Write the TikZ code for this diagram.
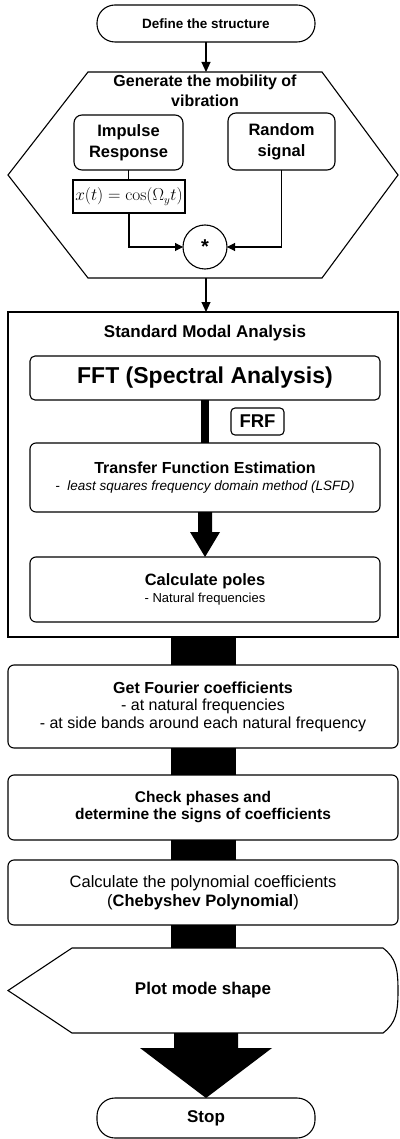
\documentclass[tikz,border=0pt]{standalone}
\usepackage[no-math]{fontspec}
\setmainfont{Liberation Sans}
\usetikzlibrary{arrows.meta,calc}
\newcommand\fsz[2]{\fontsize{#1}{#2}\selectfont}

\begin{document}
\begin{tikzpicture}[x=1pt,y=-1pt,
  every node/.style={inner sep=0pt, outer sep=0pt},
  frame/.style={draw, line width=1.1pt},
  rbox/.style={frame, rounded corners=6pt, align=center},
  term/.style={frame, rounded corners=18pt, minimum width=218pt, align=center},
  wide/.style={rbox, minimum width=390pt, minimum height=65pt},
  inner/.style={rbox, minimum width=350pt},
  thin arrow/.style={line width=1.1pt, -{Triangle[length=10pt,width=9pt]}},
  in arrow/.style={line width=1.1pt, -{Triangle[length=8pt,width=8pt]}},
  bar/.style={fill=black},
]
\useasboundingbox (0,0) rectangle (399,1139);

% start terminal
\node[term, minimum height=37pt, font=\bfseries\fsz{13.5}{16}] (start) at (206,23.5) {Define the structure};

% hexagon: generation of the vibration mobility
\node[minimum width=390pt, minimum height=206pt] (hex) at (203,175) {};
\draw[line width=1.1pt] ([xshift=80pt]hex.north west) -- ([xshift=-76pt]hex.north east)
  -- (hex.east) -- ([xshift=-76pt]hex.south east) -- ([xshift=80pt]hex.south west)
  -- (hex.west) -- cycle;
\node[align=center, font=\bfseries\fsz{16}{20}] (gentitle) at (205,91) {Generate the mobility of\\vibration};

\node[rbox, rounded corners=8pt, minimum width=109pt, minimum height=55pt, font=\bfseries\fsz{16.5}{21}] (imp) at (128.5,142.5) {Impulse\\Response};
\node[rbox, rounded corners=8pt, minimum width=107pt, minimum height=57pt, font=\bfseries\fsz{16.5}{21}] (rnd) at (281.5,141.5) {Random\\signal};
\node[frame, minimum width=112pt, minimum height=33pt, font=\fsz{16}{19}] (xt) at (129,196.5) {$x(t)=\cos(\Omega_y t)$};
\node[frame, circle, minimum size=44pt, font=\bfseries\fsz{20}{20}] (conv) at (205,247) {\raisebox{-6pt}{*}};

\draw[line width=1.1pt] (imp.south) -- (imp.south |- xt.north);
\draw[in arrow] (xt.south) |- (conv.west);
\draw[in arrow] (rnd.south) |- (conv.east);
\draw[thin arrow] (start.south) -- (start.south |- hex.north);

% standard modal analysis block
\node[frame, minimum width=390pt, minimum height=325pt] (sma) at (203,474.5) {};
\node[font=\bfseries\fsz{17}{20}] (smatitle) at (205,333) {Standard Modal Analysis};
\draw[thin arrow] (start.south |- hex.south) -- (start.south |- sma.north);

\node[inner, rounded corners=5pt, minimum height=44pt, font=\bfseries\fsz{23}{26}] (fft) at (205,378) {FFT (Spectral Analysis)};
\node[rbox, rounded corners=4pt, minimum width=53pt, minimum height=27pt, font=\bfseries\fsz{18.5}{20}] (frf) at (257.5,421.5) {FRF};
\node[inner, minimum height=69pt, font=\fsz{16}{16.5}] (tfe) at (205,477.5)
  {\textbf{Transfer Function Estimation}\\{\itshape\fsz{13.5}{16}-\ \ least squares frequency domain method (LSFD)}};
\node[inner, minimum height=65pt, font=\fsz{16.4}{17}] (poles) at (205,589.5)
  {\textbf{Calculate poles}\\{\fsz{13}{16}- Natural frequencies}};

\fill[bar] let \p1=(tfe.north), \p2=(fft.south) in (\x1-4pt,\y2) rectangle (\x1+4pt,\y1);
\fill[bar] let \p1=(poles.north), \p2=(tfe.south) in
  (\x1-7pt,\y2) -- (\x1+7pt,\y2) -- (\x1+7pt,\y1+25pt) -- (\x1+15pt,\y1+25pt)
  -- (\x1,\y1) -- (\x1-15pt,\y1+25pt) -- (\x1-7pt,\y1+25pt) -- cycle;

% post-processing steps
\node[wide, minimum height=83pt, font=\fsz{16}{17.5}] (gfc) at (203,706.5)
  {\textbf{Get Fourier coefficients}\\- at natural frequencies\\- at side bands around each natural frequency};
\node[wide, font=\bfseries\fsz{15.5}{17}] (chk) at (203,807.5)
  {Check phases and\\determine the signs of coefficients};
\node[wide, font=\fsz{16.5}{19}] (poly) at (203,892.5)
  {Calculate the polynomial coefficients\\(\textbf{Chebyshev Polynomial})};

% display shape
\node[minimum width=390pt, minimum height=85pt, font=\bfseries\fsz{17}{20}] (plot) at (203,990.5) {Plot mode shape};
\draw[line width=1.1pt] ([xshift=64pt]plot.north west) -- ([xshift=-15pt]plot.north east)
  .. controls ([xshift=-2pt,yshift=-10pt]plot.north east) and ([yshift=22pt]plot.east) .. (plot.east)
  .. controls ([yshift=-22pt]plot.east) and ([xshift=-2pt,yshift=10pt]plot.south east) .. ([xshift=-15pt]plot.south east)
  -- ([xshift=64pt]plot.south west) -- (plot.west) -- cycle;

% stop terminal
\node[term, minimum height=40pt, font=\bfseries\fsz{17}{20}] (stop) at (206,1118) {Stop};

\foreach \a/\b in {sma/gfc, gfc/chk, chk/poly, poly/plot}
  \fill[bar] let \p1=(\b.north), \p2=(\a.south) in (\x1-32.5pt,\y2) rectangle (\x1+32.5pt,\y1);

\fill[bar] let \p1=(stop.north), \p2=(plot.south) in
  (\x1-32pt,\y2) -- (\x1+32pt,\y2) -- (\x1+32pt,\y1+50pt) -- (\x1+66pt,\y1+50pt)
  -- (\x1,\y1) -- (\x1-66pt,\y1+50pt) -- (\x1-32pt,\y1+50pt) -- cycle;
\end{tikzpicture}
\end{document}
